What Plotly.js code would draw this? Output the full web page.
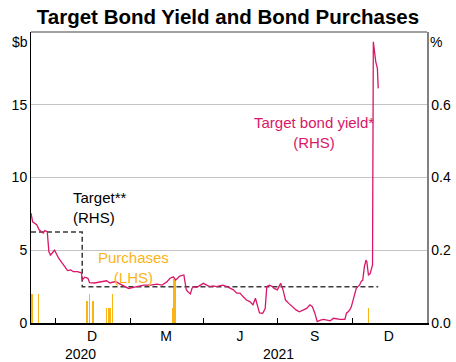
<!DOCTYPE html>
<html>
<head>
<meta charset="utf-8">
<script src="https://cdn.plot.ly/plotly-3.0.1.min.js"></script>
<style>html,body{margin:0;padding:0;background:#fff}#chart{width:456px;height:362px}</style>
</head>
<body>
<div id="chart"></div>
<script>
// ---- Data ----
const yieldDates = ["2020-09-01","2020-09-03","2020-09-08","2020-09-11","2020-09-16","2020-09-18","2020-09-21","2020-09-23","2020-09-25","2020-09-30",
"2020-10-05","2020-10-08","2020-10-12","2020-10-16","2020-10-20","2020-10-23","2020-10-28","2020-11-02","2020-11-03","2020-11-06",
"2020-11-10","2020-11-12","2020-11-18","2020-11-26","2020-12-03","2020-12-07","2020-12-14","2020-12-18","2020-12-30","2021-01-05",
"2021-01-18","2021-01-26","2021-02-03","2021-02-09","2021-02-15","2021-02-19","2021-02-23","2021-02-26","2021-03-03","2021-03-08",
"2021-03-11","2021-03-13","2021-03-16","2021-03-18","2021-03-20","2021-03-24","2021-03-28","2021-04-01","2021-04-05","2021-04-09",
"2021-04-13","2021-04-17","2021-04-21","2021-04-25","2021-04-30","2021-05-04","2021-05-08","2021-05-12","2021-05-16","2021-05-20",
"2021-05-24","2021-05-28","2021-06-01","2021-06-04","2021-06-07","2021-06-09","2021-06-13","2021-06-16","2021-06-18","2021-06-21",
"2021-06-25","2021-06-27","2021-07-01","2021-07-04","2021-07-05","2021-07-08","2021-07-11","2021-07-15","2021-07-19","2021-07-24",
"2021-07-28","2021-08-02","2021-08-06","2021-08-10","2021-08-13","2021-08-16","2021-08-19","2021-08-23","2021-08-27","2021-08-31",
"2021-09-04","2021-09-08","2021-09-12","2021-09-16","2021-09-22","2021-09-24","2021-09-26","2021-09-28","2021-09-30","2021-10-02",
"2021-10-04","2021-10-06","2021-10-08","2021-10-10","2021-10-12","2021-10-14","2021-10-16","2021-10-18","2021-10-19","2021-10-21",
"2021-10-23","2021-10-25","2021-10-26","2021-10-27","2021-10-30","2021-11-01","2021-11-02"];
const yieldValues = [0.302,0.278,0.270,0.256,0.247,0.254,0.251,0.196,0.187,0.200,
0.178,0.168,0.155,0.144,0.146,0.141,0.141,0.138,0.118,0.126,
0.123,0.111,0.110,0.114,0.116,0.110,0.114,0.109,0.095,0.098,
0.104,0.104,0.107,0.104,0.113,0.123,0.127,0.118,0.129,0.132,
0.091,0.086,0.080,0.095,0.100,0.098,0.104,0.109,0.104,0.100,
0.102,0.100,0.102,0.104,0.100,0.095,0.091,0.082,0.082,0.072,
0.063,0.059,0.050,0.068,0.045,0.028,0.027,0.040,0.100,0.104,
0.100,0.095,0.091,0.104,0.109,0.091,0.063,0.054,0.045,0.036,
0.031,0.036,0.040,0.050,0.045,0.027,0.004,0.008,0.010,0.008,
0.006,0.013,0.011,0.010,0.010,0.027,0.031,0.036,0.045,0.063,
0.077,0.095,0.100,0.104,0.114,0.118,0.155,0.173,0.168,0.132,
0.135,0.155,0.160,0.773,0.718,0.700,0.645];

const targetDates = ["2020-09-01","2020-11-03","2020-11-03","2021-11-02"];
const targetValues = [0.25,0.25,0.10,0.10];

const purchaseDates = ["2020-09-02","2020-09-10","2020-11-09","2020-11-12","2020-11-16","2020-12-03","2020-12-05","2020-12-07","2020-12-10","2021-02-22","2021-02-25","2021-10-21"];
const purchaseValues = [2.0,2.0,1.5,2.0,1.5,1.0,1.0,1.0,2.0,1.0,3.0,1.0];

const monthTickDates = ["2020-11-15","2021-02-14","2021-05-16","2021-08-16","2021-11-15"];
const monthTickLabels = ["D","M","J","S","D"];
const quarterBoundaries = ["2020-10-01","2021-01-01","2021-04-01","2021-07-01","2021-10-01"];
const yearLabels = ["2020","2021"];
const yearCentres = ["2020-11-01","2021-07-02"];
const leftTicks = [0,5,10,15];
const rightTicks = [0,0.2,0.4,0.6];

// ---- Styles ----
const FONT = "'Liberation Sans', Arial, sans-serif";
const MAGENTA = "#DA1668";
const ORANGE = "#FBB416";
const DAY = 86400000;

const traces = [
  {
    type: "bar", x: purchaseDates, y: purchaseValues, yaxis: "y", xaxis: "x",
    marker: {color: ORANGE, line: {width: 0}},
    width: purchaseValues.map(v => (v >= 3 ? 3.6 : 1.8) * DAY),
    hoverinfo: "skip", showlegend: false
  },
  {
    type: "scatter", mode: "lines", x: targetDates, y: targetValues, yaxis: "y2", xaxis: "x",
    line: {color: "#3a3a3a", width: 1.5, dash: "5px,3px"},
    hoverinfo: "skip", showlegend: false
  },
  {
    type: "scatter", mode: "lines", x: yieldDates, y: yieldValues, yaxis: "y2", xaxis: "x",
    line: {color: MAGENTA, width: 1.3},
    hoverinfo: "skip", showlegend: false
  }
];

const layout = {
  width: 456, height: 362,
  margin: {l: 31, r: 29, t: 32, b: 39, pad: 0},
  paper_bgcolor: "#fff", plot_bgcolor: "#fff",
  font: {family: FONT, size: 14, color: "#000"},
  showlegend: false,
  bargap: 0,
  title: {
    text: "Target Bond Yield and Bond Purchases",
    font: {family: FONT, size: 20.5, color: "#000", weight: "bold"},
    x: 0.5, xanchor: "center", xref: "container",
    y: 1 - 17/362, yanchor: "middle", yref: "container"
  },
  xaxis: {
    type: "date",
    range: ["2020-09-01", "2022-01-01"],
    tickmode: "array", tickvals: monthTickDates, ticktext: monthTickLabels,
    ticks: "", showgrid: false, zeroline: false,
    showline: true, linecolor: "#000", linewidth: 1.5,
    tickfont: {family: FONT, size: 14, color: "#000"},
    minor: {tickmode: "array", tickvals: quarterBoundaries, ticks: "inside", ticklen: 5, tickwidth: 1, tickcolor: "#000", showgrid: false},
    fixedrange: true
  },
  yaxis: {
    range: [0, 20],
    tickmode: "array", tickvals: leftTicks, ticktext: leftTicks.map(String),
    ticks: "", showgrid: true, gridcolor: "#c4c4c4", gridwidth: 1,
    zeroline: false, showline: true, linecolor: "#000", linewidth: 1,
    tickfont: {family: FONT, size: 14, color: "#000"},
    fixedrange: true
  },
  yaxis2: {
    range: [0, 0.8], overlaying: "y", side: "right",
    tickmode: "array", tickvals: rightTicks, ticktext: rightTicks.map(v => v.toFixed(1)),
    ticks: "", showgrid: false, zeroline: false,
    showline: true, linecolor: "#808080", linewidth: 1.5,
    tickfont: {family: FONT, size: 14, color: "#000"},
    fixedrange: true
  },
  shapes: [
    {type: "line", xref: "paper", yref: "paper", x0: 0, x1: 1, y0: 1, y1: 1, line: {color: "#808080", width: 1.5}}
  ],
  annotations: [
    {text: "$b", xref: "paper", yref: "paper", x: 0, y: 1, xanchor: "right", yanchor: "top", xshift: -1, showarrow: false, font: {family: FONT, size: 14, color: "#000"}},
    {text: "%", xref: "paper", yref: "paper", x: 1, y: 1, xanchor: "left", yanchor: "top", xshift: 1, showarrow: false, font: {family: FONT, size: 14, color: "#000"}},
    {text: "Target bond yield*<br>(RHS)", xref: "paper", yref: "paper", x: 0.715, y: 0.655, xanchor: "center", yanchor: "middle", align: "center", showarrow: false, font: {family: FONT, size: 15, color: MAGENTA}},
    {text: "Target**<br>(RHS)", xref: "paper", yref: "paper", x: 0.101, y: 0.397, xanchor: "left", yanchor: "middle", align: "left", showarrow: false, font: {family: FONT, size: 15, color: "#000"}},
    {text: "Purchases<br>(LHS)", xref: "paper", yref: "paper", x: 0.258, y: 0.192, xanchor: "center", yanchor: "middle", align: "center", showarrow: false, font: {family: FONT, size: 15, color: ORANGE}}
  ].concat(yearLabels.map((t, i) => ({
    text: t, xref: "x", yref: "paper", x: yearCentres[i], y: -31/291, xanchor: "center", yanchor: "middle",
    showarrow: false, font: {family: FONT, size: 14, color: "#000"}
  })))
};

Plotly.newPlot("chart", traces, layout, {staticPlot: true, displayModeBar: false});
</script>
</body>
</html>
